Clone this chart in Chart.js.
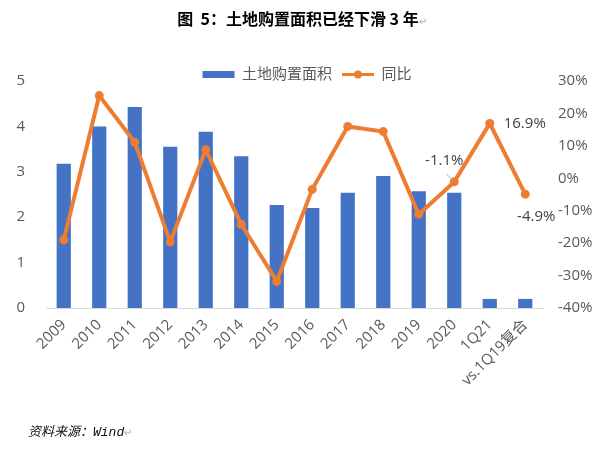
<!DOCTYPE html>
<html>
<head>
<meta charset="utf-8">
<script src="https://cdn.jsdelivr.net/npm/chart.js@4/dist/chart.umd.min.js"></script>
<style>
  body { margin: 0; background: #fff; }
  #wrap { position: relative; width: 604px; height: 452px; }
  #title { position: absolute; top: 6px; left: 0; width: 604px; text-align: center;
    font: bold 16px "Noto Sans CJK SC", serif; color: #000; white-space: pre; }
  #source { position: absolute; left: 28px; top: 421px;
    font: italic 13px "Noto Sans CJK SC", serif; color: #111; }
  .mono { font-family: "Liberation Mono", monospace; }
  .ret { color: #aaa; font-size: 10px; font-weight: normal; font-style: normal; }
  canvas { position: absolute; left: 0; top: 0; }
</style>
</head>
<body>
<div id="wrap">
  <canvas id="chart" width="604" height="452"></canvas>
  <div id="title">图  5：土地购置面积已经下滑 3 年<span class="ret">↵</span></div>
  <div id="source">资料来源：<span class="mono">Wind</span><span class="ret">↵</span></div>
</div>
<script>
// categories and values
const categories = ['2009', '2010', '2011', '2012', '2013', '2014', '2015', '2016', '2017', '2018', '2019', '2020', '1Q21', 'vs.1Q19复合'];
const landArea = [3.18, 4.0, 4.43, 3.55, 3.88, 3.34, 2.27, 2.2, 2.54, 2.91, 2.57, 2.54, 0.2, 0.2];
const yoy = [-19.0, 25.5, 11.1, -19.6, 8.8, -14.2, -31.8, -3.4, 16.0, 14.4, -11.1, -1.1, 16.9, -4.9];
const leftTicks = [0, 5];
const rightTicks = [-40, 30];

const blue = '#4472C4';
const orange = '#ED7D31';
const grey = '#595959';
const fontFam = '"Open Sans", "Noto Sans CJK SC", sans-serif';

// the three labelled points on the line: index, dx, dy
const pointLabels = [
    { i: 11, dx: -10, dy: -21, leader: true },
    { i: 12, dx: 35, dy: 0 },
    { i: 13, dx: 11, dy: 23 }
];

const legendLook = {
    id: 'legendLook',
    beforeInit(chart) {
        const fit = chart.legend.fit;
        chart.legend.fit = function () {
            fit.bind(chart.legend)();
            this.height = 24;
        };
    },
    afterDraw(chart) {
        const ctx = chart.ctx;
        const hb = chart.legend.legendHitBoxes[1];
        if (hb) {
            const y = hb.top + hb.height / 2;
            ctx.save();
            ctx.strokeStyle = orange;
            ctx.lineWidth = 3;
            ctx.beginPath();
            ctx.moveTo(hb.left, y);
            ctx.lineTo(hb.left + 32, y);
            ctx.stroke();
            ctx.fillStyle = orange;
            ctx.beginPath();
            ctx.arc(hb.left + 16, y, 4, 0, Math.PI * 2);
            ctx.fill();
            ctx.restore();
        }
        // value labels on the line
        const meta = chart.getDatasetMeta(1);
        ctx.save();
        ctx.font = '15px ' + fontFam;
        ctx.fillStyle = '#404040';
        ctx.textAlign = 'center';
        ctx.textBaseline = 'middle';
        pointLabels.forEach(p => {
            const pt = meta.data[p.i];
            const txt = yoy[p.i].toFixed(1) + '%';
            ctx.fillText(txt, pt.x + p.dx, pt.y + p.dy);
            if (p.leader) {
                ctx.strokeStyle = '#a6a6a6';
                ctx.lineWidth = 1;
                ctx.beginPath();
                ctx.moveTo(pt.x - 8, pt.y - 8);
                ctx.lineTo(pt.x - 2, pt.y - 2);
                ctx.stroke();
            }
        });
        ctx.restore();
    }
};

const ctx = document.getElementById('chart').getContext('2d');
const chart = new Chart(ctx, {
    data: {
        labels: categories,
        datasets: [{
            type: 'bar',
            label: '土地购置面积',
            data: landArea,
            backgroundColor: blue,
            yAxisID: 'y',
            barPercentage: 0.8,
            categoryPercentage: 0.5,
            order: 2
        }, {
            type: 'line',
            label: '同比',
            data: yoy,
            borderColor: orange,
            backgroundColor: orange,
            borderWidth: 4,
            pointRadius: 4.5,
            pointBackgroundColor: orange,
            pointBorderWidth: 0,
            yAxisID: 'y1',
            order: 1
        }]
    },
    options: {
        responsive: false,
        animation: false,
        layout: { padding: { left: 10, right: 0, top: 57, bottom: 44 } },
        plugins: {
            tooltip: { enabled: false },
            legend: {
                position: 'top',
                labels: {
                    color: grey,
                    font: { size: 15, family: fontFam },
                    boxWidth: 32,
                    boxHeight: 7,
                    padding: 10,
                    generateLabels(chart) {
                        return [
                            { text: '土地购置面积', fillStyle: blue, strokeStyle: blue, lineWidth: 0, datasetIndex: 0, fontColor: grey },
                            { text: '同比', fillStyle: 'rgba(0,0,0,0)', strokeStyle: 'rgba(0,0,0,0)', lineWidth: 0, datasetIndex: 1, fontColor: grey }
                        ];
                    }
                }
            }
        },
        scales: {
            x: {
                grid: { display: false, drawTicks: false },
                border: { color: '#d9d9d9', width: 1 },
                ticks: {
                    color: grey,
                    font: { size: 15, family: fontFam },
                    maxRotation: 45,
                    minRotation: 45,
                    padding: 8,
                    autoSkip: false
                },
                afterFit(scale) { scale.height = 100; }
            },
            y: {
                position: 'left',
                min: leftTicks[0],
                max: leftTicks[1],
                grid: { display: false, drawTicks: false },
                border: { display: false },
                ticks: {
                    stepSize: 1,
                    color: grey,
                    font: { size: 15, family: fontFam },
                    padding: 21
                },
                afterFit(scale) { scale.width = 36; }
            },
            y1: {
                position: 'right',
                min: rightTicks[0],
                max: rightTicks[1],
                grid: { display: false, drawTicks: false },
                border: { display: false },
                ticks: {
                    stepSize: 10,
                    color: grey,
                    font: { size: 15, family: fontFam },
                    padding: 15,
                    callback: v => v + '%'
                },
                afterFit(scale) { scale.width = 61; }
            }
        }
    },
    plugins: [legendLook]
});
</script>
</body>
</html>
